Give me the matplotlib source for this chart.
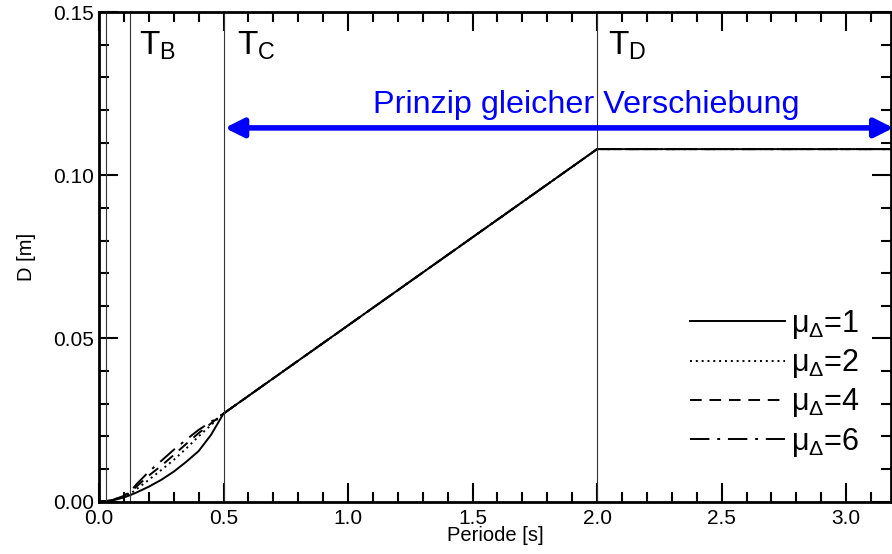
import numpy as np
import matplotlib
matplotlib.use('Agg')
import matplotlib.pyplot as plt
from matplotlib.ticker import MultipleLocator

plt.rcParams['font.family'] = ['Liberation Sans', 'DejaVu Sans']
plt.rcParams['mathtext.fontset'] = 'custom'
plt.rcParams['mathtext.rm'] = 'Liberation Sans'
plt.rcParams['mathtext.it'] = 'Liberation Sans:italic'

# periods [s] (short-period branch, up to T_C)
T_short = [0.0, 0.05, 0.1, 0.125, 0.15, 0.2, 0.25, 0.3, 0.35, 0.4, 0.45, 0.5]
D_mu1 = [0.0, 0.0003, 0.0013, 0.0020, 0.0028, 0.0046, 0.0067, 0.0092, 0.0122, 0.0155, 0.0205, 0.027]
D_mu2 = [0.0, 0.0004, 0.0016, 0.0024, 0.0038, 0.0067, 0.0097, 0.0128, 0.0163, 0.0200, 0.0235, 0.027]
D_mu4 = [0.0, 0.0004, 0.0018, 0.0028, 0.0046, 0.0080, 0.0110, 0.0143, 0.0177, 0.0210, 0.0240, 0.027]
D_mu6 = [0.0, 0.0004, 0.0019, 0.0030, 0.0053, 0.0092, 0.0125, 0.0159, 0.0190, 0.0220, 0.0245, 0.027]
# equal displacement branch (same for all ductilities)
T_long = [2.0, 3.2]
D_long = [0.108, 0.108]

mu_values = [1, 2, 4, 6]
corner_periods = {'A': 0.03, 'B': 0.125, 'C': 0.5, 'D': 2.0}

fig = plt.figure(figsize=(8.92, 5.54), dpi=100)
ax = fig.add_axes([99 / 892, 1 - 501.7 / 554, (891 - 99) / 892, (501.7 - 12) / 554])

styles = ['-', (0, (1, 2)), (0, (6, 4)), (0, (10, 4, 1.5, 4))]
for mu, D, ls in zip(mu_values, [D_mu1, D_mu2, D_mu4, D_mu6], styles):
    T = T_short + T_long
    DD = D + D_long
    ax.plot(T, DD, color='black', lw=1.4, ls=ls,
            label=r'μ$_{\mathrm{Δ}}$=%d' % mu)

for key, Tc in corner_periods.items():
    ax.axvline(Tc, color='#333333', lw=0.8)

ax.text(0.16, 0.137, r'T$_{\mathrm{B}}$', fontsize=24)
ax.text(0.555, 0.137, r'T$_{\mathrm{C}}$', fontsize=24)
ax.text(2.045, 0.137, r'T$_{\mathrm{D}}$', fontsize=24)

ax.annotate('', xy=(0.505, 0.1145), xytext=(3.19, 0.1145),
            arrowprops=dict(arrowstyle='<|-|>', color='blue', lw=4,
                            mutation_scale=28, shrinkA=0, shrinkB=0),
            annotation_clip=False)
ax.text(1.955, 0.1215, 'Prinzip gleicher Verschiebung', color='blue',
        fontsize=23.3, ha='center', va='center')

ax.set_xlim(0, 3.18)
ax.set_ylim(0, 0.15)
ax.xaxis.set_major_locator(MultipleLocator(0.5))
ax.xaxis.set_minor_locator(MultipleLocator(0.1))
ax.yaxis.set_major_locator(MultipleLocator(0.05))
ax.yaxis.set_minor_locator(MultipleLocator(0.01))
ax.xaxis.set_major_formatter(plt.FormatStrFormatter('%.1f'))
ax.yaxis.set_major_formatter(plt.FormatStrFormatter('%.2f'))
ax.tick_params(which='both', direction='in', top=True, right=True, labelsize=15, width=1.5)
ax.tick_params(which='major', length=14)
ax.tick_params(axis='x', which='major', pad=5)
ax.tick_params(which='minor', length=7)
for s in ax.spines.values():
    s.set_linewidth(2)

ax.set_xlabel('Periode [s]', fontsize=14.5, labelpad=-1)
ax.set_ylabel('D [m]', fontsize=14.5, labelpad=12)

ax.legend(loc='lower right', bbox_to_anchor=(0.98, 0.057), frameon=False,
          fontsize=22, handlelength=3.1, handletextpad=0.2, labelspacing=0.2,
          borderpad=0)

fig.savefig('out.png', dpi=100)
